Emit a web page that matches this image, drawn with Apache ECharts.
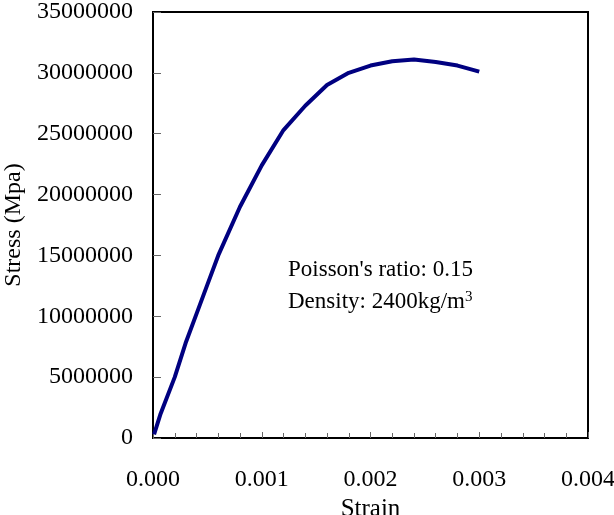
<!DOCTYPE html>
<html>
<head>
<meta charset="utf-8">
<script src="https://cdn.jsdelivr.net/npm/echarts@6/dist/echarts.min.js"></script>
<style>
  html, body { margin: 0; padding: 0; background: #fff; }
  #chart { width: 614px; height: 515px; }
</style>
</head>
<body>
<div id="chart"></div>
<script>
  // strain / stress readings
  var strain = [0.00001, 0.00007, 0.0002, 0.0003, 0.0004, 0.0005, 0.0006, 0.0008,
    0.001, 0.0012, 0.0014, 0.0016, 0.0018, 0.002, 0.0022, 0.0024, 0.0026, 0.0028, 0.003];
  var stress = [300000, 2000000, 5000000, 7800000, 10200000, 12600000, 15000000, 19000000,
    22400000, 25300000, 27300000, 29000000, 30000000, 30600000, 30950000, 31100000,
    30900000, 30600000, 30100000];

  var notes = ["Poisson's ratio: 0.15", "Density: 2400kg/m{sup|3}"];

  var font = "Liberation Serif, Times New Roman, serif";

  var points = strain.map(function(s, i) {
    return [s, stress[i]];
  });

  var chart = echarts.init(document.getElementById("chart"));

  chart.setOption({
    animation: false,
    grid: {
      left: 153,
      right: 26,
      top: 12,
      bottom: 77,
      outerBoundsMode: "none",
      containLabel: false,
      show: true,
      borderColor: "#000",
      borderWidth: 2
    },
    xAxis: {
      type: "value",
      min: 0,
      max: 0.004,
      interval: 0.001,
      name: "Strain",
      nameLocation: "middle",
      nameGap: 53,
      nameTextStyle: { fontFamily: font, fontSize: 25, color: "#000" },
      axisLine: { show: true, lineStyle: { color: "#000", width: 2 } },
      axisTick: { show: true, inside: true, length: 6, lineStyle: { color: "#666" } },
      minorTick: { show: true, splitNumber: 5, length: 5, lineStyle: { color: "#666" } },
      splitLine: { show: false },
      axisLabel: {
        margin: 30,
        fontFamily: font,
        fontSize: 24,
        color: "#000",
        formatter: function(v) { return v.toFixed(3); }
      }
    },
    yAxis: {
      type: "value",
      min: 0,
      max: 35000000,
      interval: 5000000,
      name: "Stress (Mpa)",
      nameLocation: "middle",
      nameGap: 126,
      nameTextStyle: { fontFamily: font, fontSize: 24, color: "#000" },
      axisLine: { show: true, lineStyle: { color: "#000", width: 2 } },
      axisTick: { show: true, inside: true, length: 8, lineStyle: { color: "#666" } },
      splitLine: { show: false },
      axisLabel: {
        margin: 20,
        fontFamily: font,
        fontSize: 24,
        color: "#000",
        formatter: function(v) { return String(v); }
      }
    },
    graphic: [
      {
        type: "text",
        left: 288,
        top: 258,
        style: {
          text: notes[0],
          font: "23px " + font,
          fill: "#000"
        }
      },
      {
        type: "text",
        left: 288,
        top: 290,
        style: {
          text: notes[1],
          font: "23px " + font,
          fill: "#000",
          rich: {
            sup: { fontSize: 15, fontFamily: font, verticalAlign: "top", padding: [0, 0, 9, 0] }
          }
        }
      }
    ],
    series: [
      {
        type: "line",
        data: points,
        showSymbol: false,
        smooth: false,
        lineStyle: { color: "#000080", width: 4 }
      }
    ]
  });
</script>
</body>
</html>
